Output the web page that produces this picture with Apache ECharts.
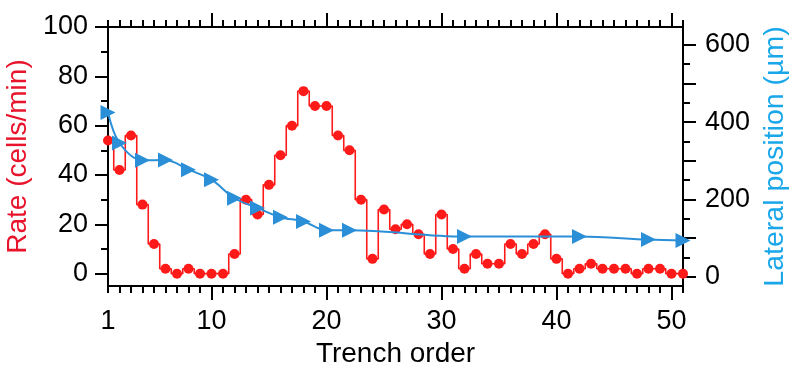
<!DOCTYPE html>
<html>
<head>
<meta charset="utf-8">
<script src="https://cdn.jsdelivr.net/npm/echarts@6/dist/echarts.min.js"></script>
<style>
  html, body { margin: 0; padding: 0; background: #fff; }
  #chart { width: 792px; height: 369px; }
</style>
</head>
<body>
<div id="chart"></div>
<script>
// rate per trench (red steps), one value per trench order 1..51
const trenchOrder = [1,2,3,4,5,6,7,8,9,10,11,12,13,14,15,16,17,18,19,20,21,22,23,24,25,26,27,28,29,30,31,32,33,34,35,36,37,38,39,40,41,42,43,44,45,46,47,48,49,50,51];
const rateValues = [54,42,56,28,12,2,0,2,0,0,0,8,30,24,36,48,60,74,68,68,56,50,30,6,26,18,20,16,8,24,10,2,8,4,4,12,8,12,16,6,0,2,4,2,2,2,0,2,2,0,0];

// lateral position (blue triangles), measured at a few trenches
const lateralOrder = [1,2,4,6,8,10,12,14,16,18,20,22,32,42,48,51];
const lateralValues = [425,346,301,302,277,251,203,178,154,143,120,120,104,104,96,94];

// tick positions
const xLabelTicks = [1,10,20,30,40,50];
const xMajorTicks = [10,20,30,40,50];
const xMinorTicks = trenchOrder.filter(v => xMajorTicks.indexOf(v) < 0);
const rateTicks = [0,20,40,60,80,100];
const rateMinor = [10,30,50,70,90];
const latLabels = [0,200,400,600];
const latMajor = [0,100,200,300,400,500,600];
const latMinor = [50,150,250,350,450,550];

const FONT = "'Liberation Sans', Arial, Helvetica, sans-serif";
const RED = '#ff1a1a';
const BLUE = '#2b8fd8';

const chart = echarts.init(document.getElementById('chart'), null, { renderer: 'canvas' });

const lineStyle = { color: '#000', width: 2 };

function xAx(pos, ticks, len, opts) {
  return Object.assign({
    type: 'value', position: pos, min: 1, max: 51,
    axisLine: { show: true, onZero: false, lineStyle },
    axisTick: { show: true, inside: false, length: len, customValues: ticks, lineStyle: { color: '#000', width: 2 } },
    axisLabel: { show: false },
    splitLine: { show: false }
  }, opts || {});
}

function yAx(pos, min, max, ticks, len, opts) {
  return Object.assign({
    type: 'value', position: pos, min: min, max: max,
    axisLine: { show: true, onZero: false, lineStyle },
    axisTick: { show: true, inside: false, length: len, customValues: ticks, lineStyle: { color: '#000', width: 2 } },
    axisLabel: { show: false },
    splitLine: { show: false }
  }, opts || {});
}

const labelStyle = { show: true, color: '#000', fontSize: 27, fontFamily: FONT };

const option = {
  animation: false,
  backgroundColor: '#fff',
  grid: { left: 108, right: 109, top: 27, bottom: 83, containLabel: false, outerBoundsMode: 'none' },
  xAxis: [
    xAx('bottom', xMajorTicks, 14, {
      axisLabel: Object.assign({ customValues: xLabelTicks, margin: 22 }, labelStyle),
      name: 'Trench order', nameLocation: 'middle', nameGap: 54,
      nameTextStyle: { color: '#000', fontSize: 28, fontFamily: FONT }
    }),
    xAx('bottom', xMinorTicks, 7),
    xAx('top', xMajorTicks, 14),
    xAx('top', xMinorTicks, 7)
  ],
  yAxis: [
    yAx('left', -5, 100, rateTicks, 13, {
      axisLabel: Object.assign({ customValues: rateTicks, margin: 20 }, labelStyle),
      name: 'Rate (cells/min)', nameLocation: 'middle', nameGap: 70,
      nameTextStyle: { color: '#e8142c', fontSize: 28, fontFamily: FONT }
    }),
    yAx('left', -5, 100, rateMinor, 7),
    yAx('right', -24, 646, latMajor, 13, {
      axisLabel: Object.assign({ customValues: latLabels, margin: 22 }, labelStyle),
      name: 'Lateral position (µm)', nameLocation: 'middle', nameGap: 75, nameRotate: 90,
      nameTextStyle: { color: '#1aa7ea', fontSize: 28.5, fontFamily: FONT }
    }),
    yAx('right', -24, 646, latMinor, 7)
  ],
  series: [
    {
      name: 'Rate', type: 'line', xAxisIndex: 0, yAxisIndex: 0,
      step: 'middle', clip: true,
      data: trenchOrder.map((x, i) => [x, rateValues[i]]),
      lineStyle: { color: RED, width: 1.6 },
      itemStyle: { color: RED },
      symbol: 'circle', symbolSize: 10,
      z: 2
    },
    {
      name: 'Lateral position', type: 'line', xAxisIndex: 0, yAxisIndex: 2,
      smooth: 0.35, clip: true,
      data: lateralOrder.map((x, i) => [x, lateralValues[i]]),
      lineStyle: { color: BLUE, width: 2 },
      itemStyle: { color: BLUE },
      symbol: 'triangle', symbolRotate: -90, symbolSize: 15,
      z: 3
    }
  ]
};

chart.setOption(option);
</script>
</body>
</html>
